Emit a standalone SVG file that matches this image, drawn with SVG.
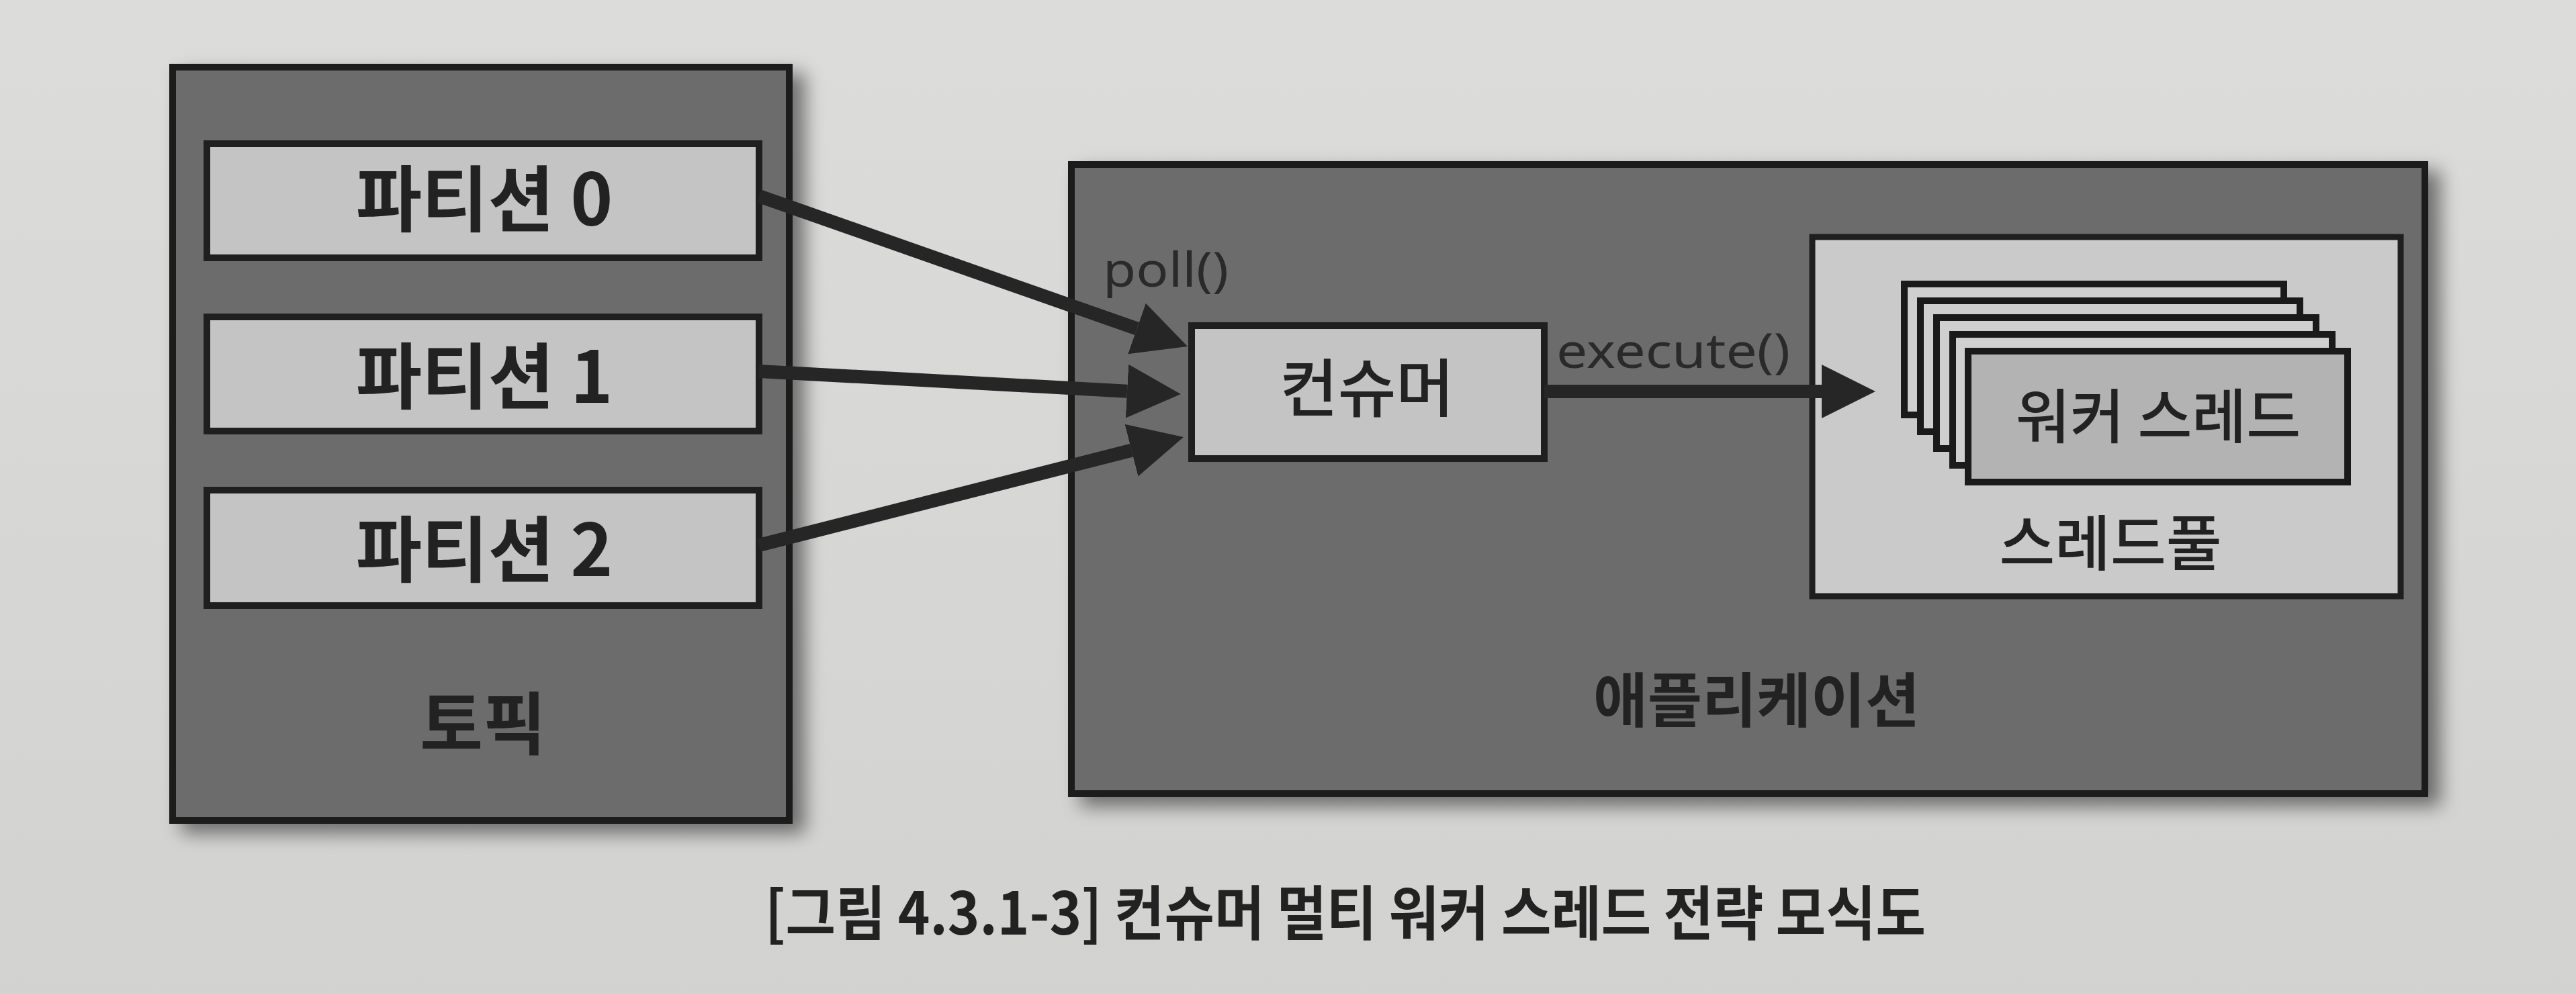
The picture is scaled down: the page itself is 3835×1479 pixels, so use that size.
<svg xmlns="http://www.w3.org/2000/svg" width="3835" height="1479" viewBox="0 0 3835 1479">
<defs>
<style>
.box{stroke:#1f1f1f;stroke-width:10}
.outer{fill:#6c6c6c}
.light{fill:#c4c4c4}
.pool{fill:#cacaca;stroke:#1f1f1f;stroke-width:9}
.card{fill:#cfcfcf;stroke:#1a1a1a;stroke-width:10}
.front{fill:#b3b3b3}
.ko{font-family:"Noto Sans CJK KR","Noto Sans",sans-serif;fill:#222;text-anchor:middle}
.b{font-weight:700}
.m{font-weight:500}
.lat{font-family:"Noto Sans","Liberation Sans",sans-serif;fill:#2a2a2a;font-size:72px}
.conn{stroke:#262626;stroke-width:20;fill:none;marker-end:url(#ah)}
</style>
<linearGradient id="bg" x1="0" y1="0" x2="0" y2="1">
<stop offset="0" stop-color="#dcdddb"/>
<stop offset="1" stop-color="#d2d3d1"/>
</linearGradient>
<filter id="sh" x="-5%" y="-5%" width="115%" height="115%">
<feGaussianBlur in="SourceAlpha" stdDeviation="14"/>
<feOffset dx="18" dy="14"/>
<feComponentTransfer><feFuncA type="linear" slope="0.5"/></feComponentTransfer>
<feMerge><feMergeNode/><feMergeNode in="SourceGraphic"/></feMerge>
</filter>
<marker id="ah" viewBox="0 0 4 4" refX="0" refY="2" markerWidth="4" markerHeight="4" markerUnits="strokeWidth" orient="auto">
<path d="M0,0 L4,2 L0,4 z" fill="#262626"/>
</marker>
</defs>
<rect width="3835" height="1479" fill="url(#bg)"/>

<g id="topic">
<rect class="box outer" x="257" y="100" width="918" height="1122" filter="url(#sh)"/>
<text class="ko b" x="719" y="1116" font-size="102">토픽</text>
</g>
<g id="partition-0">
<rect class="box light" x="308" y="214" width="822" height="170"/>
<text class="ko b" x="721" y="336" font-size="107">파티션 0</text>
</g>
<g id="partition-1">
<rect class="box light" x="308" y="472" width="822" height="170"/>
<text class="ko b" x="721" y="600" font-size="107">파티션 1</text>
</g>
<g id="partition-2">
<rect class="box light" x="308" y="730" width="822" height="172"/>
<text class="ko b" x="721" y="858" font-size="107">파티션 2</text>
</g>

<g id="application">
<rect class="box outer" x="1595" y="245" width="2015" height="937" filter="url(#sh)"/>
<text class="ko b" x="2615" y="1075" font-size="88">애플리케이션</text>
</g>
<g id="consumer">
<rect class="box light" x="1774" y="485" width="525" height="198"/>
<text class="ko m" x="2035" y="613" font-size="94">컨슈머</text>
</g>
<g id="thread-pool">
<rect class="pool" x="2698" y="353" width="876" height="535"/>
<text class="ko m" x="3142" y="842" font-size="90">스레드풀</text>
</g>
<g id="worker-threads">
<rect class="card" x="2835" y="423" width="565" height="195"/>
<rect class="card" x="2859" y="448" width="565" height="195"/>
<rect class="card" x="2883" y="473" width="565" height="195"/>
<rect class="card" x="2907" y="498" width="565" height="195"/>
<rect class="card front" x="2930" y="523" width="565" height="195"/>
<text class="ko m" x="3213" y="652" font-size="88">워커 스레드</text>
</g>

<g id="connectors">
<line class="conn" x1="1130" y1="292" x2="1692.5" y2="489.5"/>
<line class="conn" x1="1130" y1="553" x2="1678" y2="582.7"/>
<line class="conn" x1="1130" y1="812" x2="1684.5" y2="670.8"/>
<line class="conn" x1="2299" y1="583" x2="2712" y2="583"/>
<text class="lat" x="1642" y="427" font-size="70" textLength="187" lengthAdjust="spacingAndGlyphs">poll()</text>
<text class="lat" x="2317" y="548" textLength="348" lengthAdjust="spacingAndGlyphs">execute()</text>
</g>

<text id="caption" class="ko b" x="2003" y="1392" font-size="88" textLength="1728" lengthAdjust="spacingAndGlyphs">[그림 4.3.1-3] 컨슈머 멀티 워커 스레드 전략 모식도</text>
</svg>
